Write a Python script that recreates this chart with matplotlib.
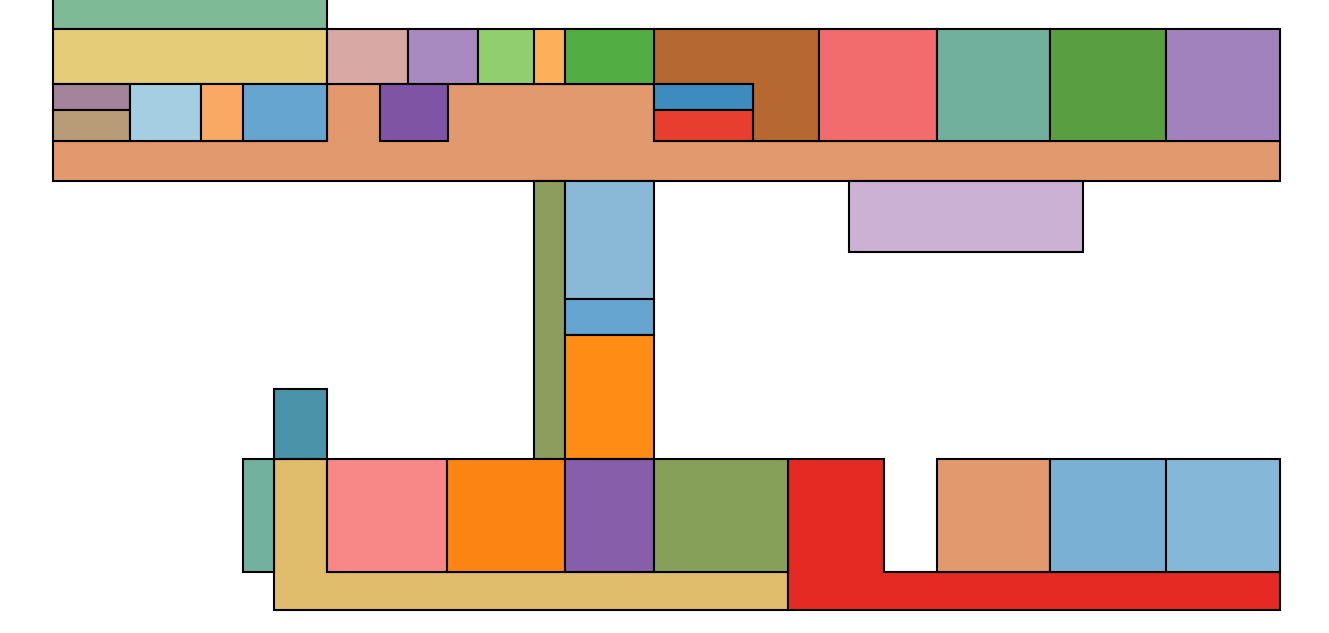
import matplotlib
matplotlib.use("Agg")
import matplotlib.pyplot as plt
from matplotlib.patches import Polygon

# floor plan outlines (x, y) in plan units, y grows downward
corridor_names = ["hall_top", "hall_bottom_left", "hall_bottom_right", "wing_ne"]
corridor_shapes = [
    [(53, 181), (1280, 181), (1280, 141), (654, 141), (654, 84), (327, 84), (327, 141), (53, 141)],
    [(274, 459), (327, 459), (327, 572), (788, 572), (788, 610), (274, 610)],
    [(788, 459), (884, 459), (884, 572), (1280, 572), (1280, 610), (788, 610)],
    [(654, 29), (819, 29), (819, 141), (753, 141), (753, 84), (654, 84)],
]
corridor_colors = ["#e2996d", "#e0bd6d", "#e52a23", "#b66832"]

# rooms as rectangles: x0, y0, x1, y1
room_x0 = [53, 53, 327, 408, 478, 534, 565, 654, 654, 819, 937, 1050, 1166,
           53, 53, 130, 201, 243, 380,
           849, 534, 565, 565, 565,
           274, 243, 327, 447, 565, 654, 937, 1050, 1166]
room_y0 = [-30, 29, 29, 29, 29, 29, 29, 84, 110, 29, 29, 29, 29,
           84, 110, 84, 84, 84, 84,
           181, 181, 181, 299, 335,
           389, 459, 459, 459, 459, 459, 459, 459, 459]
room_x1 = [327, 327, 408, 478, 534, 565, 654, 753, 753, 937, 1050, 1166, 1280,
           130, 130, 201, 243, 327, 448,
           1083, 565, 654, 654, 654,
           327, 274, 447, 565, 654, 788, 1050, 1166, 1280]
room_y1 = [29, 84, 84, 84, 84, 84, 84, 110, 141, 141, 141, 141, 141,
           110, 141, 141, 141, 141, 141,
           252, 459, 299, 335, 459,
           459, 572, 572, 572, 572, 572, 572, 572, 572]
room_colors = ["#7fba96", "#e5cc78", "#d8a8a5", "#a889c0", "#90ce70", "#fdb05a", "#52ae42",
               "#3e8bbf", "#e83e30", "#f26c6e", "#70b09d", "#5a9e42", "#a282bd",
               "#a4849a", "#b89b77", "#a6cee3", "#f9a964", "#66a5cf", "#7f54a5",
               "#cbb2d4", "#8d9d5d", "#8ab9d8", "#65a5cf", "#ff8c14",
               "#4a93a8", "#72b19e", "#f78887", "#fb8412", "#875eaa", "#869f59",
               "#e2996d", "#79b0d4", "#85b8d8"]

fig = plt.figure(figsize=(13.29, 6.33), dpi=100)
ax = fig.add_axes([0, 0, 1, 1])

for shape, c in zip(corridor_shapes, corridor_colors):
    ax.add_patch(Polygon(shape, closed=True, facecolor=c, edgecolor="black", linewidth=1.5))

for x0, y0, x1, y1, c in zip(room_x0, room_y0, room_x1, room_y1, room_colors):
    pts = [(x0, y0), (x1, y0), (x1, y1), (x0, y1)]
    ax.add_patch(Polygon(pts, closed=True, facecolor=c, edgecolor="black", linewidth=1.5))

ax.set_xlim(0, 1329)
ax.set_ylim(633, 0)
ax.axis("off")

fig.savefig("out.png", dpi=100)
